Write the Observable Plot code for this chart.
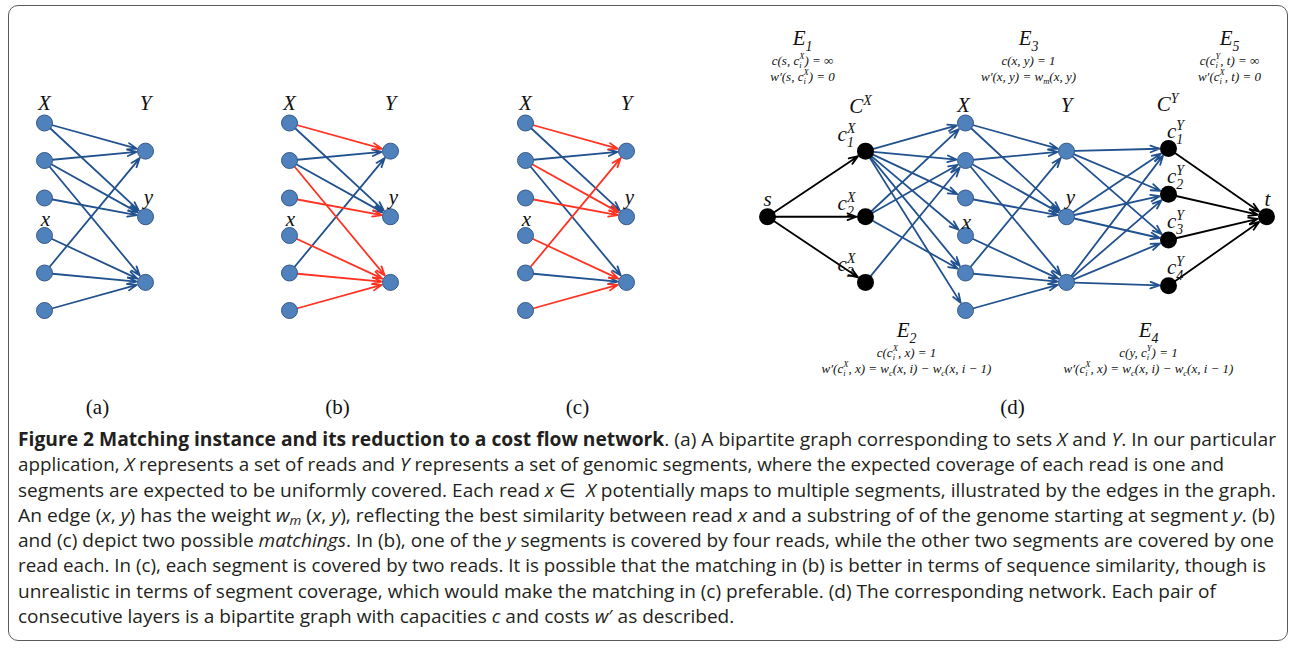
<!DOCTYPE html>
<html><head><meta charset="utf-8">
<script src="https://cdn.jsdelivr.net/npm/d3@7"></script>
<script src="https://cdn.jsdelivr.net/npm/@observablehq/plot@0.6"></script>
<style>
html,body{margin:0;background:#fff;}
#frame{position:absolute;left:8px;top:5px;width:1280px;height:636px;border:1px solid #5a5a5a;border-radius:10px;box-sizing:border-box;}
#chart{position:absolute;left:0;top:0;}
#caption{position:absolute;left:18px;top:427px;font-family:"Open Sans";font-size:16px;color:#231f20;}
#caption div{white-space:nowrap;height:25.3px;line-height:25.3px;}
#caption span{display:inline-block;transform-origin:0 50%;}
#caption sub{font-size:70%;line-height:0;vertical-align:-0.25em;}
</style></head><body>
<div id="frame"></div><div id="chart"></div><div id="caption"></div>
<script>
// ---------------- data ----------------
const readsX = ["X1","X2","X3","X4","X5","X6"];
const segmentsY = ["Y1","Y2","Y3"];
const candidateEdges = [["X1","Y1"],["X1","Y2"],["X2","Y1"],["X2","Y2"],["X2","Y3"],["X3","Y2"],["X4","Y3"],["X5","Y1"],["X5","Y3"],["X6","Y3"]];
const matchingB = [["X1","Y1"],["X2","Y3"],["X3","Y2"],["X4","Y3"],["X5","Y3"],["X6","Y3"]];
const matchingC = [["X1","Y1"],["X2","Y2"],["X3","Y2"],["X4","Y3"],["X5","Y1"],["X6","Y3"]];
const copiesCX = ["cX1","cX2","cX3"];
const copiesCY = ["cY1","cY2","cY3","cY4"];
const edgesE1 = [["s","cX1"],["s","cX2"],["s","cX3"]];
const edgesE2 = [["cX1","X1"],["cX1","X2"],["cX1","X3"],["cX1","X4"],["cX1","X5"],["cX1","X6"],["cX2","X1"],["cX2","X2"],["cX2","X5"],["cX3","X2"]];
const edgesE3 = candidateEdges;
const edgesE4 = [["Y1","cY1"],["Y1","cY2"],["Y1","cY3"],["Y2","cY1"],["Y2","cY2"],["Y2","cY3"],["Y3","cY1"],["Y3","cY2"],["Y3","cY3"],["Y3","cY4"]];
const edgesE5 = [["cY1","t"],["cY2","t"],["cY3","t"],["cY4","t"]];
const panelTags = ["(a)","(b)","(c)","(d)"];
const edgeSetTitles = ["E_{1}","E_{2}","E_{3}","E_{4}","E_{5}"];
const capacityLines = ["c(s, c_{i}^{X}) = ∞","c(c_{i}^{X}, x) = 1","c(x, y) = 1","c(y, c_{i}^{Y}) = 1","c(c_{i}^{Y}, t) = ∞"];
const costLines = ["w′(s, c_{i}^{X}) = 0","w′(c_{i}^{X}, x) = w_{c}(x, i) − w_{c}(x, i − 1)","w′(x, y) = w_{m}(x, y)","w′(c_{i}^{X}, x) = w_{c}(x, i) − w_{c}(x, i − 1)","w′(c_{i}^{X}, t) = 0"];
const bipartiteLabels = ["X","Y","x","y"];
const networkLabels = ["C^{X}","X","Y","C^{Y}","s","c_{1}^{X}","c_{2}^{X}","c_{3}^{X}","x","y","c_{1}^{Y}","c_{2}^{Y}","c_{3}^{Y}","c_{4}^{Y}","t"];
const captionLines = [
 '<b>Figure 2 Matching instance and its reduction to a cost flow network</b>. (a) A bipartite graph corresponding to sets <i>X</i> and <i>Y</i>. In our particular',
 'application, <i>X</i> represents a set of reads and <i>Y</i> represents a set of genomic segments, where the expected coverage of each read is one and',
 'segments are expected to be uniformly covered. Each read <i>x</i> ∈ &nbsp;<i>X</i> potentially maps to multiple segments, illustrated by the edges in the graph.',
 'An edge (<i>x</i>, <i>y</i>) has the weight <i>w<sub>m</sub></i> (<i>x</i>, <i>y</i>), reflecting the best similarity between read <i>x</i> and a substring of of the genome starting at segment <i>y</i>. (b)',
 'and (c) depict two possible <i>matchings</i>. In (b), one of the <i>y</i> segments is covered by four reads, while the other two segments are covered by one',
 'read each. In (c), each segment is covered by two reads. It is possible that the matching in (b) is better in terms of sequence similarity, though is',
 'unrealistic in terms of segment coverage, which would make the matching in (c) preferable. (d) The corresponding network. Each pair of',
 'consecutive layers is a bipartite graph with capacities <i>c</i> and costs <i>w</i>′ as described.'
];

// ---------------- layout ----------------
const rowOf = {X1:0,X2:1,X3:2,X4:3,X5:4,X6:5,Y1:0.75,Y2:2.5,Y3:4.25,cX1:0.75,cX2:2.5,cX3:4.25,cY1:0.68,cY2:1.9,cY3:3.12,cY4:4.34,s:2.5,t:2.5};
const rowPx = r => 122.5 + 37.5 * r;
const bipCols = {a:[44,145], b:[289,390], c:[525,626]};
const netCols = {s:767, cX:865, X:965, Y:1066, cY:1168, t:1266};
const bipLabelPos = [[0,103],[1,103],[0,219],[1,197]]; // [column, y]
const bipLabelDx = [0,0,1,3];
const netLabelPos = [[860,106],[963,105],[1066,105],[1167,104],[767,199],[846,134],[846,203],[846,264],[966,222],[1070,197],[1175,131],[1175,176],[1175,221],[1175,267],[1267,199]];
const edgeSetPos = [[802,38],[906,330],[1028,38],[1148,330],[1229,38]];
const panelTagPos = [97,337,577,1012];
const captionEnds = [1276,1224,1276,1275,1274,1266];

const BLUE_EDGE = "#21518e", RED_EDGE = "#ff3322", BLACK = "#000";
const key = e => e[0] + "-" + e[1];

function netX(id) {
  if (id === "s") return netCols.s;
  if (id === "t") return netCols.t;
  if (id.startsWith("cX")) return netCols.cX;
  if (id.startsWith("cY")) return netCols.cY;
  if (id.startsWith("X")) return netCols.X;
  return netCols.Y;
}

const nodes = [], edges = [], mathLabels = [], formulas = [], tags = [];
for (const p of ["a","b","c"]) {
  const [cx, cy] = bipCols[p];
  const pos = id => [id.startsWith("X") ? cx : cy, rowPx(rowOf[id])];
  for (const id of readsX.concat(segmentsY)) { const [x,y] = pos(id); nodes.push({x, y, kind:"blue"}); }
  const red = new Set((p === "b" ? matchingB : p === "c" ? matchingC : []).map(key));
  const list = candidateEdges.map(e => ({e, color: red.has(key(e)) ? RED_EDGE : BLUE_EDGE}));
  list.sort((u, v) => (u.color === RED_EDGE) - (v.color === RED_EDGE));
  for (const {e, color} of list) {
    const [x1,y1] = pos(e[0]), [x2,y2] = pos(e[1]);
    edges.push({x1,y1,x2,y2,color});
  }
  bipartiteLabels.forEach((t,i) => {
    const [c, y] = bipLabelPos[i];
    mathLabels.push({x: (c ? cy : cx) + bipLabelDx[i], y, text: t});
  });
}
const netNodes = ["s"].concat(copiesCX, readsX, segmentsY, copiesCY, ["t"]);
for (const id of netNodes) {
  nodes.push({x: netX(id), y: rowPx(rowOf[id]), kind: /^[XY]/.test(id) ? "blue" : "black"});
}
[[edgesE1,BLACK],[edgesE2,BLUE_EDGE],[edgesE3,BLUE_EDGE],[edgesE4,BLUE_EDGE],[edgesE5,BLACK]].forEach(([list,color]) => {
  for (const e of list) edges.push({x1: netX(e[0]), y1: rowPx(rowOf[e[0]]), x2: netX(e[1]), y2: rowPx(rowOf[e[1]]), color});
});
networkLabels.forEach((t,i) => mathLabels.push({x: netLabelPos[i][0], y: netLabelPos[i][1], text: t}));
edgeSetTitles.forEach((t,i) => {
  const [x,y] = edgeSetPos[i];
  mathLabels.push({x, y, text: t});
  formulas.push({x, y: y + 22, text: capacityLines[i]});
  formulas.push({x, y: y + 38, text: costLines[i]});
});
panelTags.forEach((t,i) => tags.push({x: panelTagPos[i], y: 407, text: t}));

const plot = Plot.plot({
  width: 1293, height: 420, margin: 0,
  x: {domain: [0, 1293], range: [0, 1293], axis: null},
  y: {domain: [0, 420], range: [0, 420], axis: null},
  color: {type: "identity"},
  style: {background: "transparent", overflow: "visible"},
  marks: [
    Plot.arrow(edges, {x1: "x1", y1: "y1", x2: "x2", y2: "y2", stroke: "color", strokeWidth: 1.8, headLength: 8, headAngle: 40, insetEnd: 9}),
    Plot.dot(nodes.filter(d => d.kind === "blue"), {x: "x", y: "y", r: 8, fill: "#4f81bd", stroke: "#36598a", strokeWidth: 1}),
    Plot.dot(nodes.filter(d => d.kind === "black"), {x: "x", y: "y", r: 8.5, fill: "#000"}),
    Plot.text(mathLabels, {x: "x", y: "y", text: "text", fontFamily: "Liberation Serif", fontStyle: "italic", fontSize: 21, fill: "#111"}),
    Plot.text(formulas, {x: "x", y: "y", text: "text", fontFamily: "Liberation Serif", fontStyle: "italic", fontSize: 13, fill: "#111"}),
    Plot.text(tags, {x: "x", y: "y", text: "text", fontFamily: "Liberation Serif", fontSize: 21, fill: "#111"})
  ]
});
document.getElementById("chart").append(plot);

// rich text: _{sub} and ^{sup} markup -> tspans
function richify(svg) {
  const NS = "http://www.w3.org/2000/svg";
  const re = /(_\{[^}]*\}\^\{[^}]*\}|_\{[^}]*\}|\^\{[^}]*\})/;
  svg.querySelectorAll("text").forEach(el => {
    if (el.children.length) return;
    const s = el.textContent;
    if (!/[_^]\{/.test(s)) return;
    const fs = parseFloat(getComputedStyle(el).fontSize) || 12;
    el.textContent = "";
    let shift = 0, pendingDx = 0;
    const small = fs * 0.66, subDy = fs * 0.26, supDy = -fs * 0.4;
    const add = (txt, size, dy, dx) => {
      const t = document.createElementNS(NS, "tspan");
      t.textContent = txt;
      if (size) t.setAttribute("font-size", size);
      if (dy) t.setAttribute("dy", dy);
      if (dx) t.setAttribute("dx", dx);
      el.appendChild(t);
      return t;
    };
    s.split(re).forEach(part => {
      if (!part) return;
      let m;
      if ((m = part.match(/^_\{([^}]*)\}\^\{([^}]*)\}$/))) {
        const a = add(m[1], small, subDy - shift, pendingDx); pendingDx = 0; shift = subDy;
        const w = a.getComputedTextLength();
        const b = add(m[2], small, supDy - shift, -w); shift = supDy;
        const w2 = b.getComputedTextLength();
        if (w > w2) pendingDx = w - w2;
      } else if ((m = part.match(/^_\{([^}]*)\}$/))) {
        add(m[1], small, subDy - shift, pendingDx); pendingDx = 0; shift = subDy;
      } else if ((m = part.match(/^\^\{([^}]*)\}$/))) {
        add(m[1], small, supDy - shift, pendingDx); pendingDx = 0; shift = supDy;
      } else {
        add(part, null, -shift, pendingDx); pendingDx = 0; shift = 0;
      }
    });
  });
}
richify(plot);

// caption: full lines fitted to the reference line lengths, short lines at the mean scale
const cap = document.getElementById("caption");
captionLines.forEach(h => { const d = document.createElement("div"); d.innerHTML = "<span>" + h + "</span>"; cap.append(d); });
const spans = [...cap.querySelectorAll("span")];
const ratios = spans.slice(0, captionEnds.length).map((s, i) => (captionEnds[i] - 18) / s.getBoundingClientRect().width);
const fs = 16 * d3.mean(ratios);
cap.style.fontSize = fs + "px";
const scales = spans.map((s, i) => i < captionEnds.length ? (captionEnds[i] - 18) / s.getBoundingClientRect().width : null);
const meanScale = d3.mean(scales.filter(v => v != null));
spans.forEach((s, i) => { s.style.transform = `scaleX(${scales[i] ?? meanScale})`; });
</script>
</body></html>
